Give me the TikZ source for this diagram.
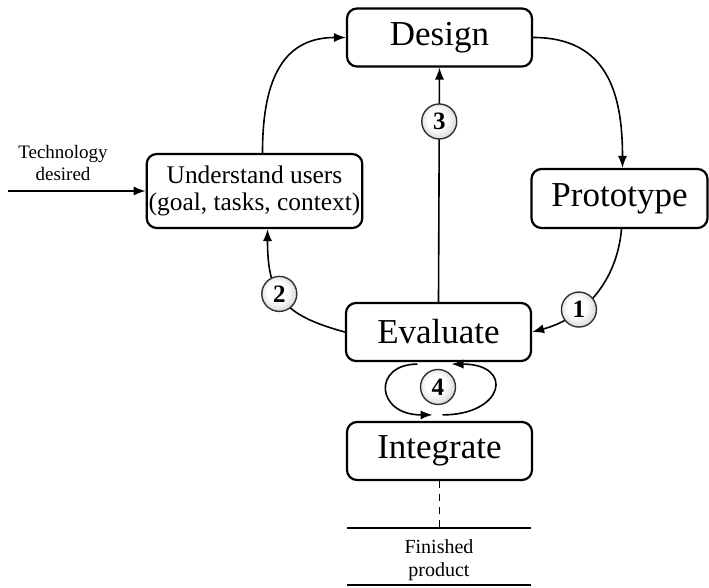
\documentclass[tikz,border=0pt]{standalone}
\usepackage{fontspec}
\setmainfont{Liberation Serif}
\usetikzlibrary{arrows.meta, shapes}
\pgfdeclareradialshading{numshade}{\pgfpoint{-4bp}{4bp}}{color(0bp)=(white); color(14bp)=(white); color(40bp)=(gray!60); color(60bp)=(gray!60)}

\begin{document}
\begin{tikzpicture}[x=0.5pt, y=0.5pt, >={Latex[length=6pt,width=4.6pt]},
  stage/.style={draw, line width=1.1pt, rounded corners=5pt, minimum width=92.5pt, minimum height=29pt, inner sep=1pt, font=\fontsize{17.5}{20}\selectfont},
  num/.style={circle, draw=black!80, line width=0.7pt, minimum size=17.5pt, inner sep=0pt, shading=numshade, font=\fontsize{12.5}{14}\selectfont\bfseries},
  flow/.style={->, line width=0.8pt},
  note/.style={align=center, inner sep=0pt, font=\fontsize{9.5}{11}\selectfont}]
  \useasboundingbox (0,0) rectangle (709,-588);
  \coordinate (techin) at (8,-191);
  \coordinate (finish) at (439.5,-528);
  \coordinate (fin_l) at (347,-528);
  \coordinate (fin_r) at (531,-528);
  \coordinate (end_l) at (347,-585);
  \coordinate (end_r) at (531,-585);
  \node[stage] (design) at (439.5,-37.5) {Design};
  \node[stage, minimum width=106.5pt, minimum height=37pt, align=center, font=\fontsize{12.7}{13.5}\selectfont] (users) at (254.5,-191) {Understand users\\(goal, tasks, context)};
  \node[stage, minimum width=88pt, minimum height=29.5pt] (proto) at (619.5,-198.5) {Prototype};
  \node[stage] (eval) at (438.5,-332) {Evaluate};
  \node[stage] (integ) at (439.5,-451) {Integrate};
  \node[note] (tech) at (63,-163) {Technology\\desired};
  \node[note, font=\fontsize{10}{11.5}\selectfont] (fin) at (439,-560) {Finished\\product};
  \draw[flow] (techin) -- (users.west);
  \draw[flow] ([xshift=4pt]users.north) to[out=90, in=180, looseness=1.2] (design.west);
  \draw[flow] (design.east) to[out=0, in=90, looseness=1.2] ([xshift=1.5pt]proto.north);
  \draw[flow] ([xshift=1pt]proto.south) to[out=-95, in=15] node[num, pos=0.65] (n1) {1} (eval.east);
  \draw[flow] (eval.west) to[out=165, in=-90, looseness=1.3] node[num, pos=0.55] (n2) {2} ([xshift=6.5pt]users.south);
  \draw[flow] (eval.north) -- node[num, pos=0.77] (n3) {3} (design.south);
  % loop between evaluate and integrate
  \draw[flow] ([xshift=-10.5pt,yshift=-1pt]eval.south) .. controls +(-22.5pt,0pt) and +(-28.5pt,0pt) .. ([xshift=-3.5pt,yshift=3pt]integ.north);
  \draw[flow] ([xshift=1.5pt,yshift=3pt]integ.north) .. controls +(31pt,0pt) and +(31.5pt,0pt) .. ([xshift=6.5pt,yshift=-1pt]eval.south);
  \node[num] (n4) at (438,-387) {4};
  \draw[dash pattern=on 3.5pt off 3pt, line width=0.7pt] (integ.south) -- (finish);
  \draw[line width=0.7pt] (fin_l) -- (fin_r);
  \draw[line width=0.7pt] (end_l) -- (end_r);
\end{tikzpicture}
\end{document}
